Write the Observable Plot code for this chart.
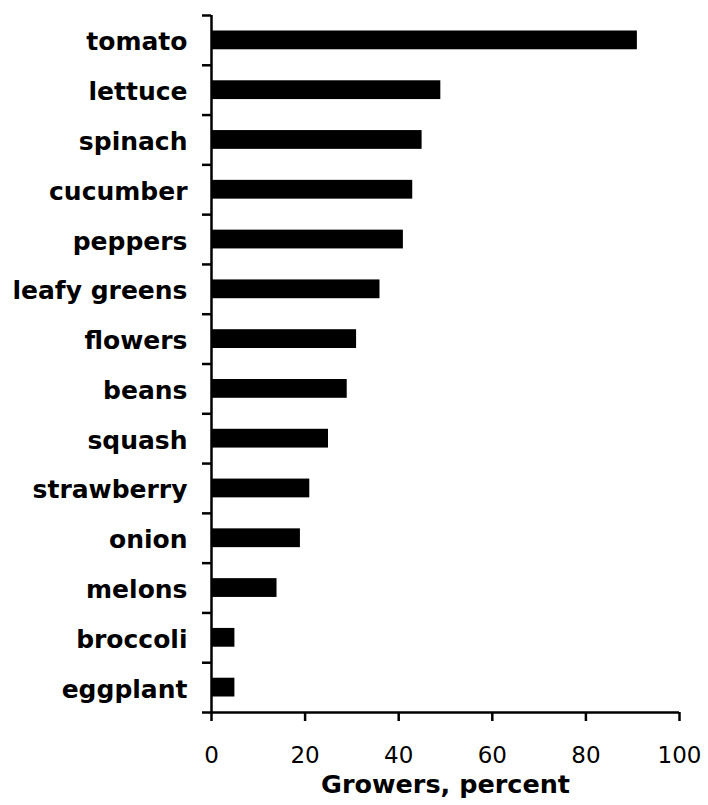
<!DOCTYPE html>
<html><head><meta charset="utf-8">
<script src="https://cdn.jsdelivr.net/npm/d3@7"></script>
<script src="https://cdn.jsdelivr.net/npm/@observablehq/plot@0.6"></script>
<style>
body{margin:0;background:#fff;}
svg{font-family:"DejaVu Sans",Verdana,sans-serif;}
</style>
</head><body><div id="chart"></div>
<script>
const crops = ["tomato","lettuce","spinach","cucumber","peppers","leafy greens","flowers","beans","squash","strawberry","onion","melons","broccoli","eggplant"];
const percents = [91,49,45,43,41,36,31,29,25,21,19,14,5,5];
const xTicks = [0,20,40,60,80,100];
const xLabel = "Growers, percent";

const n = crops.length;
const data = crops.map((name, i) => ({name, value: percents[i], pos: i, posEnd: i + 1}));
const boundaries = d3.range(n + 1);
const centers = d3.range(n).map(i => i + 0.5);

const chart = Plot.plot({
  width: 708, height: 805,
  marginTop: 15, marginBottom: 93, marginLeft: 211, marginRight: 29,
  style: {fontFamily: "'DejaVu Sans', Verdana, sans-serif", background: "white", color: "black"},
  x: {type: "linear", domain: [0, 100]},
  y: {type: "linear", domain: [n, 0]},
  marks: [
    Plot.rectX(data, {x1: 0, x2: "value", y1: "pos", y2: "posEnd", fill: "black", insetTop: 15.5, insetBottom: 15.5}),
    Plot.axisX({ticks: xTicks, tickSize: 9, tickPadding: 25, fontSize: 23, strokeWidth: 2.5, label: null}),
    Plot.axisY({ticks: boundaries, tickSize: 9, tickFormat: () => "", strokeWidth: 2.5, label: null}),
    Plot.axisY({ticks: centers, tickSize: 0, tickPadding: 24, dy: 2,
      tickFormat: v => crops[Math.floor(v)], fontSize: 25, fontWeight: "bold", label: null}),
    Plot.ruleX([0], {strokeWidth: 2.5}),
    Plot.ruleY([n], {strokeWidth: 2.5}),
    Plot.text([xLabel], {text: d => d, frameAnchor: "bottom", dy: 80, fontSize: 25.5, fontWeight: "bold"})
  ]
});
document.getElementById("chart").appendChild(chart);
</script>
</body></html>
